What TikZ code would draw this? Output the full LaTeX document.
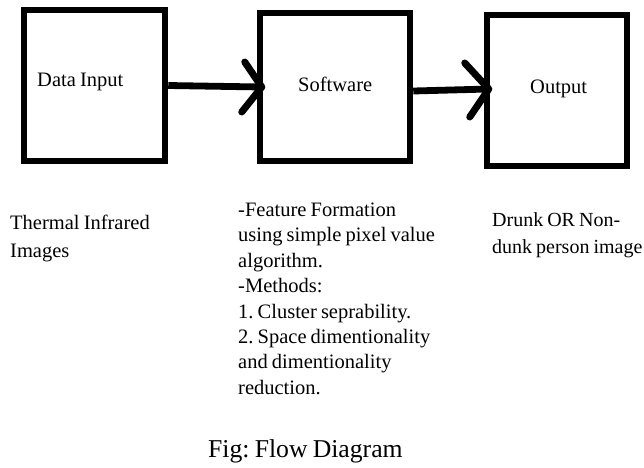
\documentclass[tikz,border=0pt]{standalone}
\usepackage{fontspec}
\setmainfont[WordSpace=0.8]{Liberation Serif}
\usetikzlibrary{calc}
\frenchspacing
\begin{document}
\begin{tikzpicture}[x=1pt,y=-1pt,
  box/.style={draw=black,line width=6.5pt,rectangle,inner sep=0pt,fill=none},
  conn/.style={draw=black,line width=6.8pt},
  headstroke/.style={draw=black,line width=7pt,line cap=round,line join=round},
  txt/.style={inner sep=0pt,anchor=base west,font=\fontsize{20.5}{25.4}\selectfont},
  blk/.style={inner sep=0pt,anchor=base west,align=left},
  captext/.style={inner sep=0pt,anchor=base west,font=\fontsize{25.7}{30}\selectfont}]
\useasboundingbox (0,0) rectangle (644,467);
% boxes
\node[box,minimum width=141pt,minimum height=151pt] (b1) at (94.5,85.5) {};
\node[box,minimum width=150pt,minimum height=148pt] (b2) at (335,87) {};
\node[box,minimum width=140pt,minimum height=151pt] (b3) at (557,90.5) {};
% box texts
\node[txt] (t1) at (37,86.7) {Data Input};
\node[txt] (t2) at (298,91) {Software};
\node[txt] (t3) at (530,93) {Output};
% connectors
\coordinate (h1) at ($(b2.west)+(5,0)$);
\coordinate (h2) at ($(b3.west)+(5,-1.5)$);
\draw[conn] (b1.east) -- (h1);
\draw[conn] (b2.east |- 0,91) -- (h2);
\draw[headstroke] (h1) ++(-17,-25) -- (h1) -- ++(-20,25);
\draw[headstroke] (h2) ++(-24,-26) -- (h2) -- ++(-19,28);
% descriptions (anchored at the baseline of their last line)
\node[blk,font=\fontsize{20.5}{28}\selectfont] (d1) at (10,257.3) {Thermal Infrared\\Images};
\node[blk,font=\fontsize{20.5}{25.4}\selectfont] (d2) at (238,394.3) {-Feature Formation\\using simple pixel value\\algorithm.\\-Methods:\\1. Cluster seprability.\\2. Space dimentionality\\and dimentionality\\reduction.};
\node[blk,font=\fontsize{20}{27.3}\selectfont] (d3) at (492,253.3) {Drunk OR Non-\\dunk person image};
\node[captext] (c) at (208,457) {Fig: Flow Diagram};
\end{tikzpicture}
\end{document}
